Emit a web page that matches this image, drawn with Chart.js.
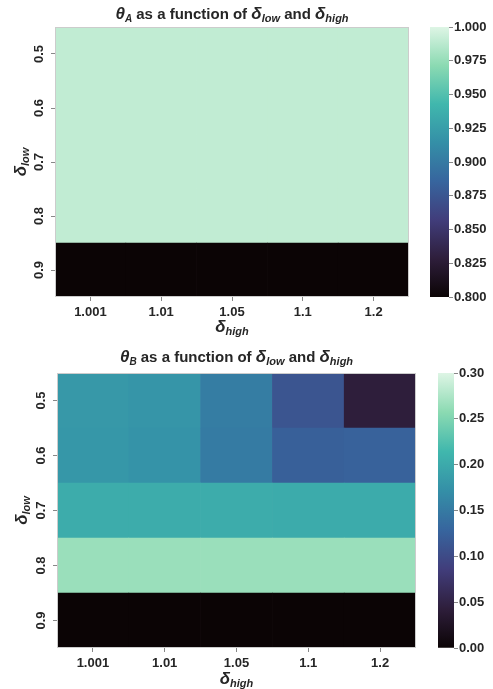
<!DOCTYPE html>
<html>
<head>
<meta charset="utf-8">
<script src="https://cdn.jsdelivr.net/npm/chart.js"></script>
<style>
    body { margin: 0; background: #fff; width: 493px; height: 689px; position: relative; overflow: hidden; }
    .box { position: absolute; }
</style>
</head>
<body>
<div class="box" style="left:0;top:0;width:420px;height:345px"><canvas id="heatA"></canvas></div>
<div class="box" style="left:420px;top:0;width:73px;height:345px"><canvas id="barA"></canvas></div>
<div class="box" style="left:0;top:345px;width:425px;height:344px"><canvas id="heatB"></canvas></div>
<div class="box" style="left:425px;top:345px;width:68px;height:344px"><canvas id="barB"></canvas></div>
<script>
// axes
const highLabels = ['1.001', '1.01', '1.05', '1.1', '1.2'];   // delta_high (columns)
const lowLabels = ['0.5', '0.6', '0.7', '0.8', '0.9'];        // delta_low (rows, top to bottom)

// theta_A, one row per delta_low
const thetaA = [
    [0.99, 0.99, 0.99, 0.99, 0.99],
    [0.99, 0.99, 0.99, 0.99, 0.99],
    [0.99, 0.99, 0.99, 0.99, 0.99],
    [0.99, 0.99, 0.99, 0.99, 0.99],
    [0.80, 0.80, 0.80, 0.80, 0.80]
];
// theta_B
const thetaB = [
    [0.181, 0.178, 0.153, 0.111, 0.043],
    [0.180, 0.176, 0.151, 0.123, 0.125],
    [0.203, 0.203, 0.203, 0.201, 0.201],
    [0.265, 0.265, 0.265, 0.265, 0.265],
    [0.000, 0.000, 0.000, 0.000, 0.000]
];
const ticksA = [0.800, 0.825, 0.850, 0.875, 0.900, 0.925, 0.950, 0.975, 1.000];
const ticksB = [0.00, 0.05, 0.10, 0.15, 0.20, 0.25, 0.30];

// mako colormap (approx stops)
const mako = [
    [0, [11, 4, 5]], [1/7, [46, 30, 59]], [2/7, [65, 61, 123]], [3/7, [55, 101, 158]],
    [4/7, [52, 143, 167]], [5/7, [64, 183, 173]], [6/7, [139, 218, 178]], [1, [222, 245, 229]]
];
function makoColor(t) {
    t = Math.max(0, Math.min(1, t));
    for (let i = 1; i < mako.length; i++) {
        if (t <= mako[i][0]) {
            const [t0, c0] = mako[i - 1], [t1, c1] = mako[i];
            const f = (t - t0) / (t1 - t0);
            const c = c0.map((v, k) => Math.round(v + (c1[k] - v) * f));
            return `rgb(${c[0]},${c[1]},${c[2]})`;
        }
    }
    return 'rgb(222,245,229)';
}

const FONT = "'Liberation Sans', Arial, sans-serif";
const TXT = '#262626';

// draw text made of pieces (for subscripts), centred at x,y
function drawRich(ctx, parts, x, y, rot) {
    ctx.save();
    ctx.translate(x, y);
    if (rot) ctx.rotate(rot);
    let w = 0;
    parts.forEach(p => { ctx.font = p.f; p.w = ctx.measureText(p.t).width; w += p.w; });
    let cx = -w / 2;
    ctx.fillStyle = TXT;
    ctx.textBaseline = 'alphabetic';
    ctx.textAlign = 'left';
    parts.forEach(p => {
        ctx.font = p.f;
        ctx.fillText(p.t, cx, 5 + (p.sub ? 3 : 0));
        cx += p.w;
    });
    ctx.restore();
}
const sym = 'italic bold 17px ' + FONT, sub = 'italic bold 11px ' + FONT, reg = 'bold 15px ' + FONT;
const dHigh = [{t: 'δ', f: sym}, {t: 'high', f: sub, sub: true}];
const dLow = [{t: 'δ', f: sym}, {t: 'low', f: sub, sub: true}];
function titleParts(letter) {
    return [{t: 'θ', f: sym}, {t: letter, f: 'italic bold 10px ' + FONT, sub: true},
        {t: ' as a function of ', f: reg}, ...dLow, {t: ' and ', f: reg}, ...dHigh];
}

const labelsPlugin = {
    id: 'richLabels',
    afterDraw(chart, args, opts) {
        const {ctx, chartArea: a} = chart;
        ctx.save();
        ctx.strokeStyle = '#cccccc';
        ctx.lineWidth = 1;
        ctx.strokeRect(a.left + 0.5, a.top + 0.5, a.width - 1, a.height - 1);
        ctx.restore();
        const cx = (a.left + a.right) / 2;
        drawRich(ctx, opts.title, cx, opts.titleY);
        drawRich(ctx, dHigh, cx, opts.xTitleY);
        drawRich(ctx, dLow, opts.yTitleX, (a.top + a.bottom) / 2, -Math.PI / 2);
    }
};

function heatmap(id, values, vmin, vmax, geo, letter) {
    // one stacked dataset per row, bottom row first
    const datasets = values.slice().reverse().map((row, i) => ({
        label: lowLabels[lowLabels.length - 1 - i],
        data: row.map(() => 1),
        backgroundColor: row.map(v => makoColor((v - vmin) / (vmax - vmin))),
        borderWidth: 0,
        barPercentage: 1,
        categoryPercentage: 1
    }));
    return new Chart(document.getElementById(id), {
        type: 'bar',
        data: { labels: highLabels, datasets },
        plugins: [labelsPlugin],
        options: {
            responsive: true,
            maintainAspectRatio: false,
            animation: false,
            layout: { padding: { top: geo.top, right: geo.right, left: 0, bottom: 0 } },
            plugins: {
                legend: { display: false },
                tooltip: { enabled: false },
                richLabels: { title: titleParts(letter), titleY: geo.titleY, xTitleY: geo.xTitleY, yTitleX: geo.yTitleX }
            },
            scales: {
                x: {
                    stacked: true,
                    grid: { display: true, drawOnChartArea: false, offset: false, tickLength: 4, color: '#888' },
                    border: { display: false },
                    ticks: { color: TXT, font: { family: FONT, size: 13, weight: 'bold' }, padding: 4 },
                    afterFit: s => { s.height = geo.xh; }
                },
                y: {
                    stacked: true,
                    min: 0, max: 5,
                    afterBuildTicks: s => { s.ticks = [0.5, 1.5, 2.5, 3.5, 4.5].map(v => ({ value: v })); },
                    grid: { display: true, drawOnChartArea: false, tickLength: 4, color: '#888' },
                    border: { display: false },
                    ticks: {
                        minRotation: 90, maxRotation: 90, crossAlign: 'center', padding: 3,
                        color: TXT, font: { family: FONT, size: 13, weight: 'bold' },
                        callback: v => lowLabels[4 - Math.floor(v)]
                    },
                    afterFit: s => { s.width = geo.yw; }
                }
            }
        }
    });
}

function colorbar(id, vmin, vmax, ticks, digits, geo) {
    return new Chart(document.getElementById(id), {
        type: 'bar',
        data: {
            labels: [''],
            datasets: [{
                data: [[vmin, vmax]],
                barPercentage: 1, categoryPercentage: 1, borderWidth: 0,
                backgroundColor: c => {
                    const a = c.chart.chartArea;
                    if (!a) return '#888';
                    const g = c.chart.ctx.createLinearGradient(0, a.bottom, 0, a.top);
                    mako.forEach(([t, rgb]) => g.addColorStop(t, `rgb(${rgb.join(',')})`));
                    return g;
                }
            }]
        },
        options: {
            responsive: true,
            maintainAspectRatio: false,
            animation: false,
            layout: { padding: { top: geo.top, bottom: geo.bottom, left: geo.left, right: 0 } },
            plugins: { legend: { display: false }, tooltip: { enabled: false } },
            scales: {
                x: { display: false },
                y: {
                    position: 'right',
                    min: vmin, max: vmax,
                    afterBuildTicks: s => { s.ticks = ticks.map(v => ({ value: v })); },
                    grid: { display: true, drawOnChartArea: false, tickLength: 4, color: '#888' },
                    border: { display: false },
                    ticks: {
                        padding: 1, color: TXT, font: { family: FONT, size: 13, weight: 'bold' },
                        callback: v => v.toFixed(digits)
                    },
                    afterFit: s => { s.width = geo.w; }
                }
            }
        }
    });
}

heatmap('heatA', thetaA, 0.8, 1.0, { top: 27, right: 11, xh: 48, yw: 55, titleY: 14, xTitleY: 327, yTitleX: 21 }, 'A');
colorbar('barA', 0.8, 1.0, ticksA, 3, { top: 27, bottom: 48, left: 10, w: 44 });
heatmap('heatB', thetaB, 0.0, 0.3, { top: 28, right: 9, xh: 41, yw: 57, titleY: 12, xTitleY: 334, yTitleX: 22 }, 'B');
colorbar('barB', 0.0, 0.3, ticksB, 2, { top: 28, bottom: 41, left: 13, w: 39 });
</script>
</body>
</html>
